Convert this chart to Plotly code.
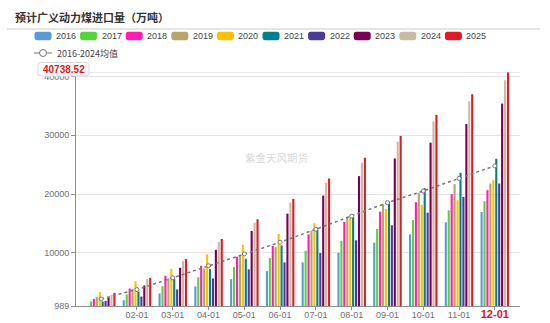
import plotly.graph_objects as go

# ---------------- data ----------------
months = ["01-01", "02-01", "03-01", "04-01", "05-01", "06-01",
          "07-01", "08-01", "09-01", "10-01", "11-01", "12-01"]
tick_labels = ["", "02-01", "03-01", "04-01", "05-01", "06-01",
               "07-01", "08-01", "09-01", "10-01", "11-01", "12-01"]
years = ["2016", "2017", "2018", "2019", "2020", "2021", "2022", "2023", "2024", "2025"]

v2016 = [989, 1974, 3116, 4309, 5553, 6916, 8398, 10034, 11738, 13169, 15214, 16969]
v2017 = [1753, 2945, 4360, 5893, 7597, 9131, 10375, 12079, 14073, 15606, 17259, 18793]
v2018 = [2196, 3968, 6115, 7819, 9352, 11176, 13169, 15265, 17020, 18622, 19985, 20667]
v2019 = [2537, 3900, 5672, 7376, 9523, 11005, 13783, 16168, 18281, 20207, 21689, 21792]
v2020 = [3337, 5212, 7308, 9761, 11397, 13221, 15044, 16117, 17481, 18162, 18963, 22371]
v2021 = [1753, 3457, 5553, 7257, 9012, 11295, 13902, 16066, 18673, 21008, 23615, 26001]
v2022 = [1855, 2605, 3797, 5672, 7206, 8398, 9983, 12147, 14703, 16850, 19525, 21792]
v2023 = [2434, 4479, 7478, 10545, 13732, 16680, 19747, 23053, 26051, 28727, 31913, 35372]
v2024 = [2877, 5553, 8620, 11857, 15146, 18554, 21911, 25319, 28897, 32356, 35764, 39343]
v2025 = [3218, 5774, 8961, 12369, 15725, 19185, 22644, 26171, 29869, 33447, 36957, 40738.52]

avg_2016_2024 = [2192, 3788, 5780, 7832, 9835, 11820, 14035, 16250, 18546, 20523, 22659, 24789]
avg_name = "2016-2024均值"

y_min = 989
y_max = 40738.52
y_ticks = [989, 10000, 20000, 30000, 40000]
y_tick_text = ["989", "10000", "20000", "30000", "40000"]
max_label = "40738.52"

title_text = "预计广义动力煤进口量（万吨）"
watermark = "紫金天风期货"

series = [v2016, v2017, v2018, v2019, v2020, v2021, v2022, v2023, v2024, v2025]

# ---------------- styles ----------------
colors = ["#5b9bd5", "#55d43c", "#ff1eb0", "#b5a66b", "#ffc000",
          "#00808a", "#4b3a98", "#7a0052", "#c9bba4", "#dd1c24"]
FONT = "Liberation Sans, Noto Sans CJK SC, sans-serif"
CJK = "Noto Sans CJK SC, Liberation Sans, sans-serif"

W_FIG, H_FIG = 550, 323
L, R, T, B = 76, 30, 72, 17
PW = W_FIG - L - R
PH = H_FIG - T - B


def px_x(p):
    return (p - L) / PW


def px_y(p):
    return (T + PH - p) / PH


def rrect(x0, y0, x1, y1, r):
    pts = [
        ("M", x0 + r, y0), ("L", x1 - r, y0), ("Q", x1, y0, x1, y0 + r),
        ("L", x1, y1 - r), ("Q", x1, y1, x1 - r, y1), ("L", x0 + r, y1),
        ("Q", x0, y1, x0, y1 - r), ("L", x0, y0 + r), ("Q", x0, y0, x0 + r, y0),
    ]
    s = ""
    for p in pts:
        if p[0] == "Q":
            s += "Q%.5f,%.5f %.5f,%.5f " % (px_x(p[1]), px_y(p[2]), px_x(p[3]), px_y(p[4]))
        else:
            s += "%s%.5f,%.5f " % (p[0], px_x(p[1]), px_y(p[2]))
    return s + "Z"


fig = go.Figure()

for yr, vals, c in zip(years, series, colors):
    fig.add_trace(go.Bar(x=months, y=vals, name=yr, marker=dict(color=c, line=dict(width=0)),
                         showlegend=False))

fig.add_trace(go.Scatter(x=months, y=avg_2016_2024, name=avg_name, mode="lines+markers",
                         line=dict(color="#777777", width=1.5, dash="dot"),
                         marker=dict(symbol="circle", size=4, color="white",
                                     line=dict(color="#777777", width=1)),
                         showlegend=False))

shapes = []
annotations = []

# title + separator
annotations.append(dict(xref="paper", yref="paper", x=px_x(13), y=px_y(17), xanchor="left",
                        yanchor="middle", text="<b>" + title_text + "</b>", showarrow=False,
                        font=dict(family=CJK, size=11, color="#333333")))
shapes.append(dict(type="line", xref="paper", yref="paper", x0=px_x(7), x1=px_x(540),
                   y0=px_y(29), y1=px_y(29), line=dict(color="#cccccc", width=1)))

# custom legend row 1
for i, (yr, c) in enumerate(zip(years, colors)):
    x0 = 34.5 + 45.6 * i
    shapes.append(dict(type="path", xref="paper", yref="paper",
                       path=rrect(x0, 31.7, x0 + 17, 40.3, 2.5),
                       fillcolor=c, line=dict(width=0)))
    annotations.append(dict(xref="paper", yref="paper", x=px_x(x0 + 19.5), y=px_y(36),
                            xanchor="left", yanchor="middle", text=yr, showarrow=False,
                            font=dict(family=FONT, size=9, color="#444444")))
# legend row 2
shapes.append(dict(type="line", xref="paper", yref="paper", x0=px_x(34), x1=px_x(52),
                   y0=px_y(53), y1=px_y(53), line=dict(color="#777777", width=1)))
shapes.append(dict(type="circle", xref="paper", yref="paper", x0=px_x(39.5), x1=px_x(46.5),
                   y0=px_y(56.5), y1=px_y(49.5), fillcolor="white",
                   line=dict(color="#777777", width=1)))
annotations.append(dict(xref="paper", yref="paper", x=px_x(54.5), y=px_y(53),
                        xanchor="left", yanchor="middle", text=avg_name, showarrow=False,
                        font=dict(family=CJK, size=9, color="#444444")))

# axis-pointer line at max and its label box
shapes.append(dict(type="line", xref="paper", yref="y", x0=0, x1=1, y0=y_max, y1=y_max,
                   line=dict(color="#d0d0d0", width=1)))
shapes.append(dict(type="path", xref="paper", yref="paper",
                   path=rrect(38, 62.5, 89, 76, 3), fillcolor="white",
                   line=dict(color="#d8d8d8", width=1)))
annotations.append(dict(xref="paper", yref="paper", x=px_x(63.5), y=px_y(69.3),
                        xanchor="center", yanchor="middle", text="<b>" + max_label + "</b>",
                        showarrow=False, font=dict(family=FONT, size=10, color="#e0161e")))

# watermark
annotations.append(dict(xref="paper", yref="paper", x=px_x(276), y=px_y(157),
                        xanchor="center", yanchor="middle", text=watermark, showarrow=False,
                        font=dict(family=CJK, size=10.5, color="rgba(190,190,190,0.6)")))

ticktext = [t for t in tick_labels]
ticktext[-1] = "<span style='color:#e0161e;font-size:11px'><b>" + tick_labels[-1] + "</b></span>"

fig.update_layout(
    width=W_FIG, height=H_FIG, autosize=False,
    margin=dict(l=L, r=R, t=T, b=B, autoexpand=False),
    paper_bgcolor="white", plot_bgcolor="white",
    barmode="group", bargap=0.18, bargroupgap=0.28,
    showlegend=False,
    shapes=shapes, annotations=annotations,
    font=dict(family=FONT, size=9, color="#6e7079"),
    xaxis=dict(type="category", tickvals=months[1:], ticktext=ticktext[1:],
               automargin=False, ticklabelstandoff=-3,
               showline=True, linecolor="#8a8d94", linewidth=1,
               ticks="outside", ticklen=3, tickcolor="#8a8d94",
               showgrid=False, tickfont=dict(size=9, color="#6e7079")),
    yaxis=dict(range=[y_min, y_max], tickvals=y_ticks, ticktext=y_tick_text,
               automargin=False,
               showline=True, linecolor="#8a8d94", linewidth=1,
               ticks="outside", ticklen=4, tickcolor="#8a8d94",
               showgrid=True, gridcolor="#e4e4e4", gridwidth=1, zeroline=False,
               tickfont=dict(size=9, color="#6e7079")),
)

fig.write_html("out.html")
